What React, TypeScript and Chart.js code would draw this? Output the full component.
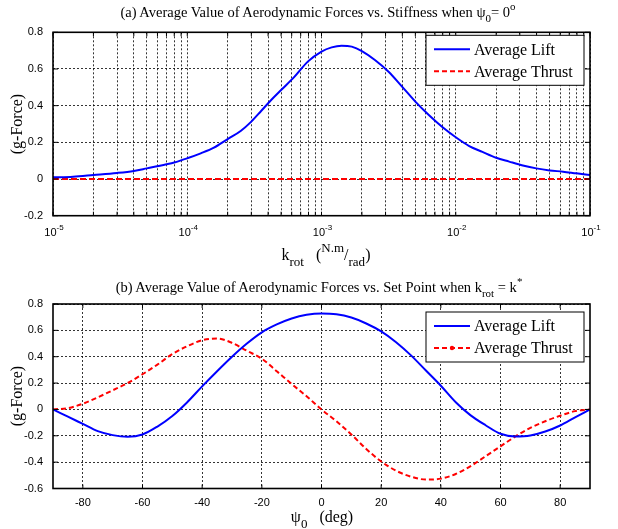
import React, { useEffect, useRef } from 'react';
import { Chart, registerables } from 'chart.js';
Chart.register(...registerables);

// ---------- data: (a) forces vs stiffness ----------
const kValues = [1e-5, 1.41e-5, 2e-5, 3e-5, 4e-5, 5e-5, 7e-5, 8e-5, 1e-4, 1.26e-4, 1.58e-4, 2e-4, 2.5e-4, 3e-4, 3.55e-4, 4.22e-4, 5e-4, 6.3e-4, 7.9e-4, 1e-3, 1.19e-3, 1.41e-3, 1.68e-3, 2e-3, 2.5e-3, 3.16e-3, 3.98e-3, 5e-3, 6.3e-3, 7.9e-3, 1e-2, 1.26e-2, 1.58e-2, 2e-2, 2.5e-2, 3.16e-2, 3.98e-2, 5e-2, 6.3e-2, 7.9e-2, 1e-1];
const liftVsK = [0.009, 0.013, 0.022, 0.033, 0.044, 0.058, 0.08, 0.09, 0.113, 0.14, 0.171, 0.218, 0.262, 0.313, 0.371, 0.431, 0.485, 0.558, 0.64, 0.695, 0.718, 0.727, 0.722, 0.698, 0.649, 0.585, 0.504, 0.422, 0.349, 0.285, 0.228, 0.18, 0.148, 0.116, 0.095, 0.074, 0.058, 0.047, 0.04, 0.031, 0.022];
const thrustK = [1e-5, 1e-4, 1e-3, 1e-2, 1e-1];
const thrustVsK = [0, 0, 0, 0, 0];
const topMajorTicks = [1e-5, 1e-4, 1e-3, 1e-2, 1e-1];
const topMajorExps = ['-5', '-4', '-3', '-2', '-1'];
const topYTicks = [-0.2, 0, 0.2, 0.4, 0.6, 0.8];

// ---------- data: (b) forces vs set point ----------
const psiValues = [-90, -85, -80, -75, -70, -65, -60, -55, -50, -45, -40, -35, -30, -25, -20, -15, -10, -5, 0, 5, 10, 15, 20, 25, 30, 35, 40, 45, 50, 55, 60, 65, 70, 75, 80, 85, 90];
const liftVsPsi = [0, -0.055, -0.11, -0.165, -0.195, -0.207, -0.19, -0.13, -0.05, 0.055, 0.175, 0.29, 0.4, 0.5, 0.585, 0.645, 0.69, 0.718, 0.728, 0.722, 0.697, 0.652, 0.592, 0.51, 0.41, 0.295, 0.18, 0.055, -0.045, -0.12, -0.185, -0.205, -0.198, -0.168, -0.122, -0.06, 0];
const thrustVsPsi = [0, 0.01, 0.043, 0.092, 0.145, 0.2, 0.267, 0.34, 0.42, 0.48, 0.525, 0.538, 0.505, 0.445, 0.385, 0.29, 0.193, 0.1, 0, -0.09, -0.19, -0.3, -0.395, -0.465, -0.51, -0.532, -0.525, -0.49, -0.43, -0.355, -0.28, -0.205, -0.14, -0.09, -0.048, -0.013, 0];
const botXTicks = [-80, -60, -40, -20, 0, 20, 40, 60, 80];
const botYTicks = [-0.6, -0.4, -0.2, 0, 0.2, 0.4, 0.6, 0.8];

const seriesNames = ['Average Lift', 'Average Thrust'];
const BLUE = '#0000ff';
const RED = '#ff0000';
const SERIF = "'Liberation Serif','Times New Roman',serif";
const SANS = "'Liberation Sans',Arial,sans-serif";

// log grid positions (1..9 x 10^n)
const topGrid: number[] = [];
for (let e = -5; e <= -2; e++) {
  for (let m = 1; m <= 9; m++) topGrid.push(m * Math.pow(10, e));
}
topGrid.push(1e-1);

const fmtY = (v: number) => (Math.abs(v) < 1e-9 ? '0' : v.toFixed(1));

const framePlugin = {
  id: 'frame',
  afterDraw(chart: any) {
    const { ctx, chartArea: a, scales } = chart;
    ctx.save();
    ctx.strokeStyle = '#000';
    ctx.lineWidth = 1;
    ctx.beginPath();
    scales.x.ticks.forEach((t: any) => {
      const px = scales.x.getPixelForValue(t.value);
      ctx.moveTo(px, a.bottom); ctx.lineTo(px, a.bottom - 4);
      ctx.moveTo(px, a.top); ctx.lineTo(px, a.top + 4);
    });
    scales.y.ticks.forEach((t: any) => {
      const py = scales.y.getPixelForValue(t.value);
      ctx.moveTo(a.left, py); ctx.lineTo(a.left + 5, py);
      ctx.moveTo(a.right, py); ctx.lineTo(a.right - 5, py);
    });
    ctx.stroke();
    ctx.lineWidth = 1.6;
    ctx.strokeRect(a.left, a.top, a.right - a.left, a.bottom - a.top);
    ctx.restore();
  },
};

function legendPlugin(offsetTop: number, markerOnThrust: boolean) {
  return {
    id: 'boxLegend',
    afterDraw(chart: any) {
      const { ctx, chartArea: a } = chart;
      const w = 158, h = 50;
      const x = a.right - 6 - w;
      const y = a.top + offsetTop;
      ctx.save();
      ctx.fillStyle = '#fff';
      ctx.fillRect(x, y, w, h);
      ctx.strokeStyle = '#000';
      ctx.lineWidth = 1;
      ctx.strokeRect(x, y, w, h);
      const rows = [
        { name: seriesNames[0], color: BLUE, dash: [] as number[], dy: 14 },
        { name: seriesNames[1], color: RED, dash: [5, 3], dy: 36 },
      ];
      rows.forEach((r, i) => {
        ctx.strokeStyle = r.color;
        ctx.lineWidth = 2;
        ctx.setLineDash(r.dash);
        ctx.beginPath();
        ctx.moveTo(x + 8, y + r.dy);
        ctx.lineTo(x + 44, y + r.dy);
        ctx.stroke();
        ctx.setLineDash([]);
        if (i === 1 && markerOnThrust) {
          ctx.fillStyle = r.color;
          ctx.beginPath();
          ctx.arc(x + 26, y + r.dy, 2.2, 0, Math.PI * 2);
          ctx.fill();
        }
        ctx.fillStyle = '#000';
        ctx.font = `16px ${SERIF}`;
        ctx.textBaseline = 'middle';
        ctx.textAlign = 'left';
        ctx.fillText(r.name, x + 48, y + r.dy + 1);
      });
      ctx.restore();
    },
  };
}

const topXLabelPlugin = {
  id: 'logLabels',
  afterDraw(chart: any) {
    const { ctx, chartArea: a, scales } = chart;
    ctx.save();
    ctx.fillStyle = '#000';
    ctx.textBaseline = 'alphabetic';
    topMajorTicks.forEach((v, i) => {
      const px = scales.x.getPixelForValue(v);
      ctx.font = `11px ${SANS}`;
      const w10 = ctx.measureText('10').width;
      ctx.font = `8px ${SANS}`;
      const we = ctx.measureText(topMajorExps[i]).width;
      const start = px - (w10 + we) / 2 + 1;
      ctx.font = `11px ${SANS}`;
      ctx.textAlign = 'left';
      ctx.fillText('10', start, a.bottom + 20);
      ctx.font = `8px ${SANS}`;
      ctx.fillText(topMajorExps[i], start + w10, a.bottom + 14);
    });
    ctx.restore();
  },
};

const gridCommon = { color: '#000', lineWidth: 0.8, drawTicks: false };
const borderCommon = { display: false, dash: [2, 2] };

export default function App() {
  const topRef = useRef<HTMLCanvasElement>(null);
  const botRef = useRef<HTMLCanvasElement>(null);

  useEffect(() => {
    const c1 = new Chart(topRef.current as HTMLCanvasElement, {
      type: 'line',
      data: {
        datasets: [
          {
            label: seriesNames[0],
            data: kValues.map((k, i) => ({ x: k, y: liftVsK[i] })),
            borderColor: BLUE,
            borderWidth: 2,
            pointRadius: 0,
            cubicInterpolationMode: 'monotone',
          },
          {
            label: seriesNames[1],
            data: thrustK.map((k, i) => ({ x: k, y: thrustVsK[i] })),
            borderColor: RED,
            borderWidth: 2,
            borderDash: [6, 3],
            pointRadius: 0,
          },
        ],
      },
      options: {
        responsive: false,
        animation: false,
        devicePixelRatio: 1,
        layout: { padding: { left: 0, right: 28, top: 32.3, bottom: 0 } },
        plugins: { legend: { display: false }, tooltip: { enabled: false }, title: { display: false } },
        scales: {
          x: {
            type: 'logarithmic',
            min: 1e-5,
            max: 1e-1,
            afterBuildTicks: (s: any) => { s.ticks = topGrid.map((v) => ({ value: v })); },
            afterFit: (s: any) => { s.height = 34.3; },
            ticks: { display: false },
            grid: gridCommon,
            border: borderCommon,
          },
          y: {
            type: 'linear',
            min: -0.2,
            max: 0.8,
            afterBuildTicks: (s: any) => { s.ticks = topYTicks.map((v) => ({ value: v })); },
            afterFit: (s: any) => { s.width = 53; },
            ticks: { color: '#000', font: { family: SANS, size: 11 }, padding: 10, callback: (v: any) => fmtY(Number(v)) },
            grid: gridCommon,
            border: borderCommon,
          },
        },
      } as any,
      plugins: [framePlugin, legendPlugin(3, false), topXLabelPlugin],
    });

    const c2 = new Chart(botRef.current as HTMLCanvasElement, {
      type: 'line',
      data: {
        datasets: [
          {
            label: seriesNames[0],
            data: psiValues.map((p, i) => ({ x: p, y: liftVsPsi[i] })),
            borderColor: BLUE,
            borderWidth: 2,
            pointRadius: 0,
            cubicInterpolationMode: 'monotone',
          },
          {
            label: seriesNames[1],
            data: psiValues.map((p, i) => ({ x: p, y: thrustVsPsi[i] })),
            borderColor: RED,
            borderWidth: 2,
            borderDash: [5, 3],
            pointRadius: 0,
            cubicInterpolationMode: 'monotone',
          },
        ],
      },
      options: {
        responsive: false,
        animation: false,
        devicePixelRatio: 1,
        layout: { padding: { left: 0, right: 28, top: 34, bottom: 0 } },
        plugins: { legend: { display: false }, tooltip: { enabled: false }, title: { display: false } },
        scales: {
          x: {
            type: 'linear',
            min: -90,
            max: 90,
            afterBuildTicks: (s: any) => { s.ticks = botXTicks.map((v) => ({ value: v })); },
            afterFit: (s: any) => { s.height = 40.5; },
            ticks: { color: '#000', font: { family: SANS, size: 11 }, padding: 8, maxRotation: 0, autoSkip: false },
            grid: gridCommon,
            border: borderCommon,
          },
          y: {
            type: 'linear',
            min: -0.6,
            max: 0.8,
            afterBuildTicks: (s: any) => { s.ticks = botYTicks.map((v) => ({ value: v })); },
            afterFit: (s: any) => { s.width = 53; },
            ticks: { color: '#000', font: { family: SANS, size: 11 }, padding: 10, callback: (v: any) => fmtY(Number(v)) },
            grid: gridCommon,
            border: borderCommon,
          },
        },
      } as any,
      plugins: [framePlugin, legendPlugin(8, true)],
    });

    return () => { c1.destroy(); c2.destroy(); };
  }, []);

  const textBase: React.CSSProperties = {
    position: 'absolute',
    fontFamily: SERIF,
    fontSize: 16,
    color: '#000',
    whiteSpace: 'nowrap',
    lineHeight: '20px',
  };
  const titleText: React.CSSProperties = { ...textBase, fontSize: 14.5 };
  const sub: React.CSSProperties = { fontSize: 11, position: 'relative', top: 5 };
  const sup: React.CSSProperties = { fontSize: 11, position: 'relative', top: -7 };
  const subL: React.CSSProperties = { fontSize: 13, position: 'relative', top: 6 };
  const supL: React.CSSProperties = { fontSize: 13, position: 'relative', top: -8 };

  return (
    <div style={{ position: 'absolute', left: 0, top: 0, width: 618, height: 529, background: '#fff', overflow: 'hidden' }}>
      <canvas ref={topRef} width={618} height={250} style={{ position: 'absolute', left: 0, top: 0 }} />
      <canvas ref={botRef} width={618} height={259} style={{ position: 'absolute', left: 0, top: 270 }} />

      <div style={{ ...titleText, left: 318, top: 2, transform: 'translateX(-50%)' }}>
        (a) Average Value of Aerodynamic Forces vs. Stiffness when ψ<span style={sub}>0</span>= 0<span style={sup}>o</span>
      </div>
      <div style={{ ...titleText, left: 319, top: 277, transform: 'translateX(-50%)' }}>
        (b) Average Value of Aerodynamic Forces vs. Set Point when k<span style={sub}>rot</span> = k<span style={sup}>*</span>
      </div>

      <div style={{ ...textBase, left: 326, top: 245, transform: 'translateX(-50%)' }}>
        k<span style={subL}>rot</span>&nbsp;&nbsp;&nbsp;(<span style={supL}>N.m</span>/<span style={subL}>rad</span>)
      </div>
      <div style={{ ...textBase, left: 322, top: 507, transform: 'translateX(-50%)' }}>
        ψ<span style={subL}>0</span>&nbsp;&nbsp;&nbsp;(deg)
      </div>

      <div style={{ ...textBase, left: 17, top: 124, transform: 'translate(-50%,-50%) rotate(-90deg)' }}>(g-Force)</div>
      <div style={{ ...textBase, left: 17, top: 396, transform: 'translate(-50%,-50%) rotate(-90deg)' }}>(g-Force)</div>
    </div>
  );
}
